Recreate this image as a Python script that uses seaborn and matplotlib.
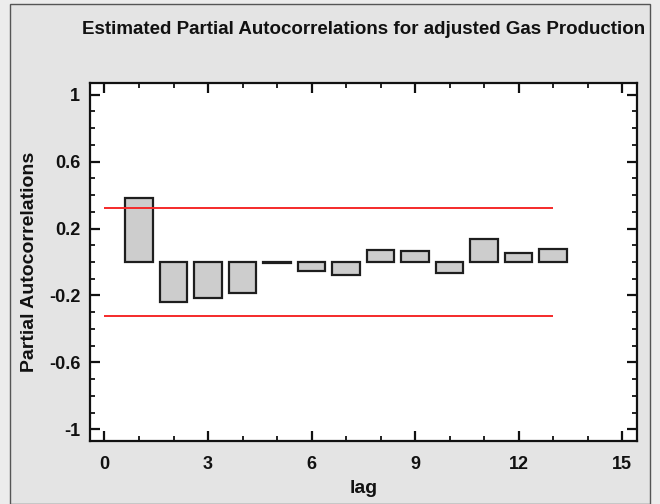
import matplotlib
matplotlib.use("Agg")
import matplotlib.pyplot as plt
from matplotlib.patches import Rectangle
from matplotlib.ticker import MultipleLocator
import numpy as np
import pandas as pd
import seaborn as sns

# Partial autocorrelation estimates by lag
lags = [1, 2, 3, 4, 5, 6, 7, 8, 9, 10, 11, 12, 13]
pacf = [0.382, -0.239, -0.213, -0.185, -0.004, -0.056, -0.075, 0.072, 0.064,
        -0.065, 0.135, 0.054, 0.08]
# 95% significance limits
limit = 0.32
limit_span = [0, 13]

x_ticks = [0, 3, 6, 9, 12, 15]
y_ticks = [-1, -0.6, -0.2, 0.2, 0.6, 1]
y_tick_labels = ["-1", "-0.6", "-0.2", "0.2", "0.6", "1"]

df = pd.DataFrame({"lag": lags, "pacf": pacf})

sns.set_style("ticks")
plt.rcParams["font.family"] = ["Liberation Sans", "DejaVu Sans"]

fig = plt.figure(figsize=(6.6, 5.04), dpi=100, facecolor="#ececec")
fig.patches.append(Rectangle((10 / 660, 0), 640 / 660, 1 - 4 / 504,
                             transform=fig.transFigure, facecolor="#e4e4e4",
                             edgecolor="#555555", linewidth=1.0, zorder=-1))
ax = fig.add_axes([90 / 660, 1 - 441 / 504, 547 / 660, 358 / 504])
ax.set_facecolor("white")

sns.barplot(data=df, x="lag", y="pacf", native_scale=True, width=0.8,
            color="#cdcdcd", saturation=1, edgecolor="#1e1e1e", linewidth=1.6,
            ax=ax, zorder=2)

ax.hlines([limit, -limit], limit_span[0], limit_span[1], colors="#f52a2a",
          linewidth=1.4, zorder=3)

ax.set_xlim(-0.42, 15.43)
ax.set_ylim(-1.07, 1.07)
ax.set_xticks(x_ticks)
ax.set_xticklabels([str(t) for t in x_ticks])
ax.set_yticks(y_ticks)
ax.set_yticklabels(y_tick_labels)
ax.xaxis.set_minor_locator(MultipleLocator(1))
ax.yaxis.set_minor_locator(MultipleLocator(0.1))

for side in ["left", "right", "top", "bottom"]:
    ax.spines[side].set_visible(True)
    ax.spines[side].set_color("#111111")
    ax.spines[side].set_linewidth(1.6)

ax.tick_params(which="major", direction="in", length=7, width=1.6,
               top=True, right=True, color="#111111",
               labelsize=13, labelcolor="#111111")
ax.tick_params(which="minor", direction="in", length=3.5, width=1.3,
               top=True, right=True, color="#111111")
ax.tick_params(axis="x", which="major", pad=11)
ax.tick_params(axis="y", which="major", pad=7)
for lbl in ax.get_xticklabels() + ax.get_yticklabels():
    lbl.set_fontweight("bold")

ax.set_xlabel("lag", fontsize=14, fontweight="bold", color="#111111", labelpad=5)
ax.set_ylabel("Partial Autocorrelations", fontsize=14, fontweight="bold",
              color="#111111", labelpad=8)
ax.set_title("Estimated Partial Autocorrelations for adjusted Gas Production",
             fontsize=13.5, fontweight="bold", color="#111111", pad=35)

fig.savefig("out.png", dpi=100, facecolor=fig.get_facecolor())
